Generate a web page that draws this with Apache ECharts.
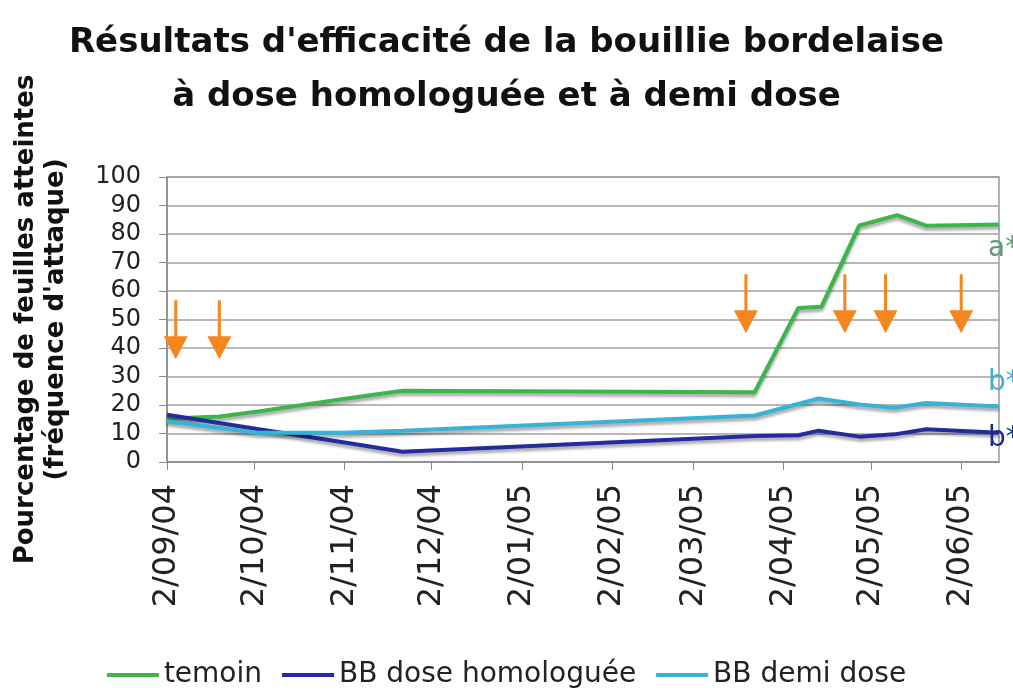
<!DOCTYPE html>
<html>
<head>
<meta charset="utf-8">
<script src="https://cdn.jsdelivr.net/npm/echarts@6/dist/echarts.min.js"></script>
<style>
html,body{margin:0;padding:0;background:#fff;}
#chart_1{width:1013px;height:698px;}
</style>
</head>
<body>
<div id="chart_1"></div>
<script>
// ticks of the date axis
var tickDates = ['2004-09-02','2004-10-02','2004-11-02','2004-12-02','2005-01-02','2005-02-02','2005-03-02','2005-04-02','2005-05-02','2005-06-02'];
var tickLabels = ['2/09/04','2/10/04','2/11/04','2/12/04','2/01/05','2/02/05','2/03/05','2/04/05','2/05/05','2/06/05'];

// temoin
var temoinDates = ['2004-09-02','2004-09-20','2004-10-04','2004-11-01','2004-11-22','2005-03-23','2005-04-07','2005-04-15','2005-04-28','2005-05-11','2005-05-21','2005-06-15'];
var temoinValues = [15.2, 16, 17.8, 22, 25, 24.5, 54, 54.5, 83, 86.6, 82.9, 83.3];

// BB dose homologuee
var homolDates = ['2004-09-02','2004-10-03','2004-11-01','2004-11-22','2005-03-23','2005-04-07','2005-04-14','2005-04-28','2005-05-10','2005-05-21','2005-06-15'];
var homolValues = [16.6, 11.6, 7, 3.6, 9.1, 9.4, 11, 8.9, 9.7, 11.5, 10.3];

// BB demi dose
var demiDates = ['2004-09-02','2004-10-03','2004-11-01','2004-11-22','2005-03-23','2005-04-14','2005-04-28','2005-05-10','2005-05-21','2005-06-15'];
var demiValues = [14.3, 10.3, 10.3, 11, 16.3, 22.3, 20.2, 19, 20.7, 19.5];

// traitements (fleches)
var arrowDates = ['2004-09-05','2004-09-20','2005-03-20','2005-04-23','2005-05-07','2005-06-02'];
var arrowLevels = [46.4, 46.4, 55.5, 55.5, 55.5, 55.5];

var seriesNames = ['temoin', 'BB dose homologuée', 'BB demi dose'];
var seriesColors = ['#3cb54a', '#232c9c', '#35b4d6'];

// dates -> day number (UTC, no timezone drift)
function ts(s){
    var p = s.split('-');
    return Date.UTC(+p[0], +p[1] - 1, +p[2]) / 86400000;
}
function pairs(d, v){
    var res = [];
    for (var i = 0; i < d.length; i++) {
        res.push([ts(d[i]), v[i]]);
    }
    return res;
}
var tickValues = tickDates.map(ts);
var labelMap = {};
for (var i = 0; i < tickValues.length; i++) { labelMap[tickValues[i]] = tickLabels[i]; }

var FONT = 'DejaVu Sans';
var lineShadow = {shadowColor: 'rgba(0,0,0,0.35)', shadowBlur: 3, shadowOffsetY: 3};

var chart_1 = echarts.init(document.getElementById('chart_1'));

var chart_1_option = {
    animation: false,
    backgroundColor: '#fff',
    title: {
        text: "Résultats d'efficacité de la bouillie bordelaise\nà dose homologuée et à demi dose",
        left: 'center',
        top: 11,
        textStyle: {
            fontFamily: FONT,
            fontSize: 34,
            fontWeight: 'bold',
            color: '#111',
            lineHeight: 54
        }
    },
    legend: {
        data: seriesNames.map(function (n) { return {name: n, icon: 'rect'}; }),
        top: 656,
        left: 'center',
        itemWidth: 52,
        itemHeight: 4,
        itemGap: 20,
        textStyle: {fontFamily: FONT, fontSize: 28, color: '#222'}
    },
    grid: {
        left: 167,
        right: 14,
        top: 177,
        bottom: 236,
        show: true,
        borderColor: '#9a9a9a',
        borderWidth: 1.5
    },
    xAxis: {
        type: 'value',
        min: ts('2004-09-02'),
        max: ts('2005-06-15'),
        axisLine: {onZero: false, lineStyle: {color: '#8a8a8a', width: 1.5}},
        axisTick: {show: true, customValues: tickValues, length: 8, lineStyle: {color: '#8a8a8a'}},
        splitLine: {show: false},
        axisLabel: {
            customValues: tickValues,
            rotate: 90,
            margin: 22,
            fontFamily: FONT,
            fontSize: 32,
            color: '#222',
            formatter: function (v) { return labelMap[v] || ''; }
        }
    },
    yAxis: {
        type: 'value',
        min: 0,
        max: 100,
        interval: 10,
        name: "Pourcentage de feuilles atteintes\n(fréquence d'attaque)",
        nameLocation: 'middle',
        nameGap: 96,
        nameTextStyle: {fontFamily: FONT, fontSize: 26, fontWeight: 'bold', color: '#111', lineHeight: 30},
        axisLine: {show: true, lineStyle: {color: '#8a8a8a', width: 1.5}},
        axisTick: {show: true, length: 8, lineStyle: {color: '#8a8a8a'}},
        splitLine: {lineStyle: {color: '#a0a0a0', width: 1.5}},
        axisLabel: {margin: 26, fontFamily: FONT, fontSize: 24, color: '#222'}
    },
    series: [
        {
            name: seriesNames[0],
            type: 'line',
            symbol: 'none',
            data: pairs(temoinDates, temoinValues),
            itemStyle: {color: seriesColors[0]},
            lineStyle: Object.assign({color: seriesColors[0], width: 4}, lineShadow),
            endLabel: {show: true, formatter: 'a*', offset: [-19, 24], fontFamily: FONT, fontSize: 28, color: '#5f9a7e'},
            z: 3
        },
        {
            name: seriesNames[1],
            type: 'line',
            symbol: 'none',
            data: pairs(homolDates, homolValues),
            itemStyle: {color: seriesColors[1]},
            lineStyle: Object.assign({color: seriesColors[1], width: 4}, lineShadow),
            endLabel: {show: true, formatter: 'b*', offset: [-19, 6], fontFamily: FONT, fontSize: 28, color: '#1f2a8e'},
            z: 3
        },
        {
            name: seriesNames[2],
            type: 'line',
            symbol: 'none',
            data: pairs(demiDates, demiValues),
            itemStyle: {color: seriesColors[2]},
            lineStyle: Object.assign({color: seriesColors[2], width: 4}, lineShadow),
            endLabel: {show: true, formatter: 'b*', offset: [-19, -24], fontFamily: FONT, fontSize: 28, color: '#45aed0'},
            z: 3
        },
        {
            name: 'traitements',
            type: 'scatter',
            silent: true,
            symbol: 'path://M9.5,0 L12.5,0 L12.5,36 L23,36 L11,59 L-1,36 L9.5,36 Z',
            symbolSize: [24, 59],
            itemStyle: {color: '#f5861f', opacity: 1},
            data: pairs(arrowDates, arrowLevels),
            z: 4
        }
    ]
};
chart_1.setOption(chart_1_option);
window.addEventListener('resize', function () {
    chart_1.resize();
});
</script>
</body>
</html>
